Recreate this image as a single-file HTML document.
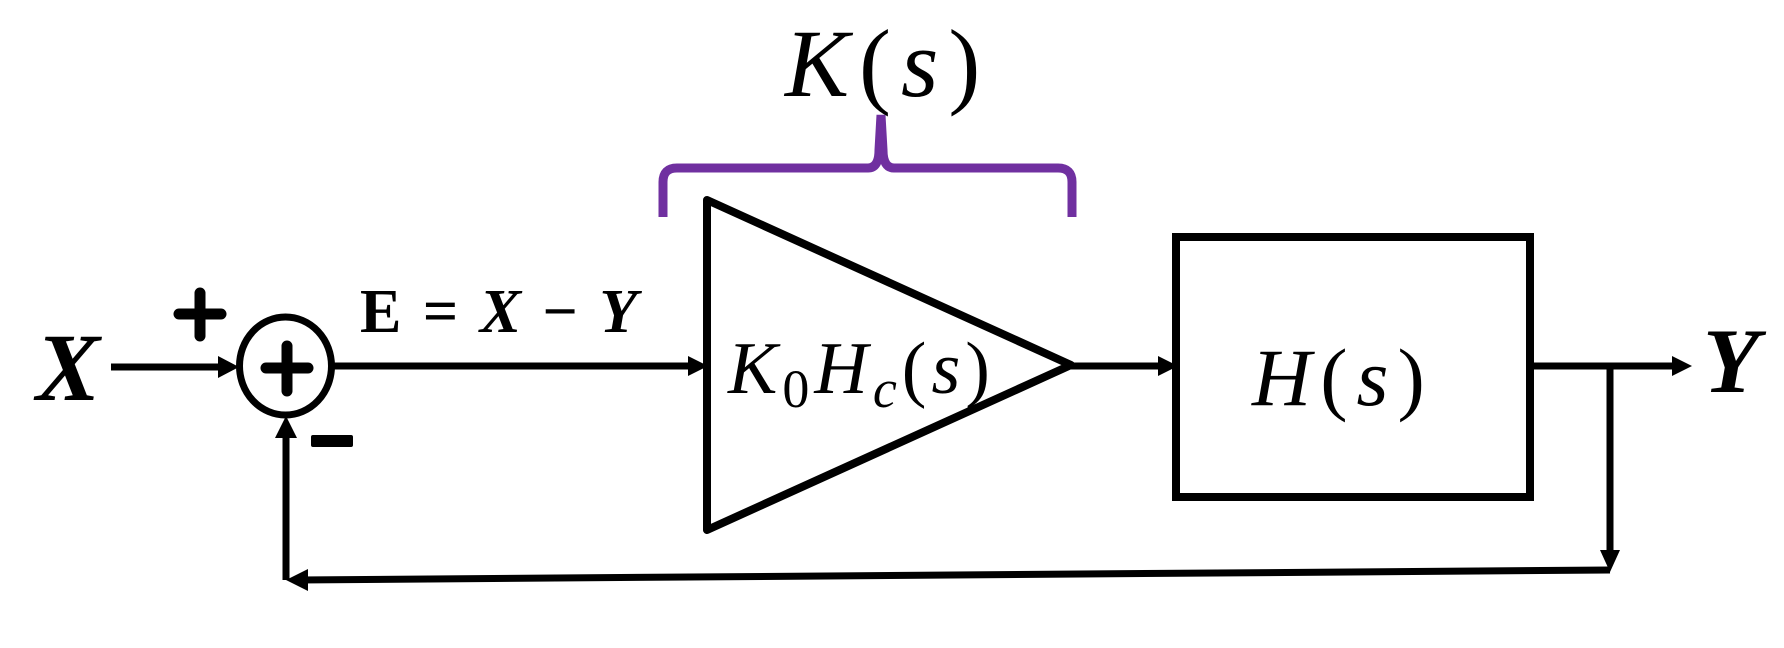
<!DOCTYPE html>
<html><head><meta charset="utf-8"><style>html,body{margin:0;padding:0;background:#fff}svg{display:block}</style></head>
<body>
<svg width="1784" height="648" viewBox="0 0 1784 648" xmlns="http://www.w3.org/2000/svg">
<g stroke="#000" stroke-width="7" fill="none" stroke-linecap="butt">
  <line x1="111" y1="367" x2="226" y2="367"/>
  <line x1="333" y1="366" x2="696" y2="366"/>
  <line x1="1071" y1="366" x2="1166" y2="366"/>
  <line x1="1530" y1="366" x2="1680" y2="366"/>
  <line x1="1610" y1="366" x2="1610" y2="560"/>
  <line x1="1610" y1="570" x2="298" y2="580"/>
  <line x1="286" y1="580" x2="286" y2="428"/>
</g>
<g fill="#000">
  <polygon points="218,356 239,367 218,378"/>
  <polygon points="688,356 708,366 688,376"/>
  <polygon points="1158,356 1178,366 1158,376"/>
  <polygon points="1672,356 1692,366 1672,376"/>
  <polygon points="1600,550 1610,572 1620,550"/>
  <polygon points="308,569 286,580 308,591"/>
  <polygon points="275,438 286,416 297,438"/>
</g>
<ellipse cx="285.5" cy="366" rx="46" ry="49" fill="none" stroke="#000" stroke-width="7"/>
<g stroke="#000" stroke-width="11" stroke-linecap="round">
  <line x1="287" y1="346" x2="287" y2="391"/>
  <line x1="266" y1="368" x2="308" y2="368"/>
  <line x1="200" y1="293" x2="200" y2="336"/>
  <line x1="179" y1="314" x2="221" y2="314"/>
</g>
<rect x="311" y="435" width="42" height="12" rx="2" fill="#000"/>
<polygon points="707,200 1071,365 707,530" fill="none" stroke="#000" stroke-width="8" stroke-linejoin="round"/>
<rect x="1176" y="237" width="354" height="260" fill="none" stroke="#000" stroke-width="8"/>
<path d="M663,217 L663,182 Q663,168 677,168 L868,168 Q879,168 879,150 L881,115 L883,150 Q883,168 894,168 L1058,168 Q1072,168 1072,182 L1072,217" fill="none" stroke="#7030a0" stroke-width="9"/>
<g font-family="'Liberation Serif', serif" fill="#000">
  <text x="36" y="400" font-size="96" font-weight="bold" font-style="italic">X</text>
  <text x="1703" y="392" font-size="92" font-weight="bold" font-style="italic">Y</text>
  <text x="360" y="332" font-size="62" font-weight="bold" letter-spacing="3">E = <tspan font-style="italic">X</tspan> − <tspan font-style="italic">Y</tspan></text>
  <text x="785" y="96" font-size="96" font-style="italic" letter-spacing="10">K<tspan font-style="normal">(</tspan>s<tspan font-style="normal">)</tspan></text>
  <text x="728" y="393" font-size="74" font-style="italic" letter-spacing="5">K<tspan font-style="normal" font-size="54" dy="14">0</tspan><tspan dy="-14">H</tspan><tspan font-size="54" dy="14">c</tspan><tspan font-style="normal" dy="-14">(</tspan>s<tspan font-style="normal">)</tspan></text>
  <text x="1252" y="405" font-size="82" font-style="italic" letter-spacing="9">H<tspan font-style="normal">(</tspan>s<tspan font-style="normal">)</tspan></text>
</g>
</svg>
</body></html>
